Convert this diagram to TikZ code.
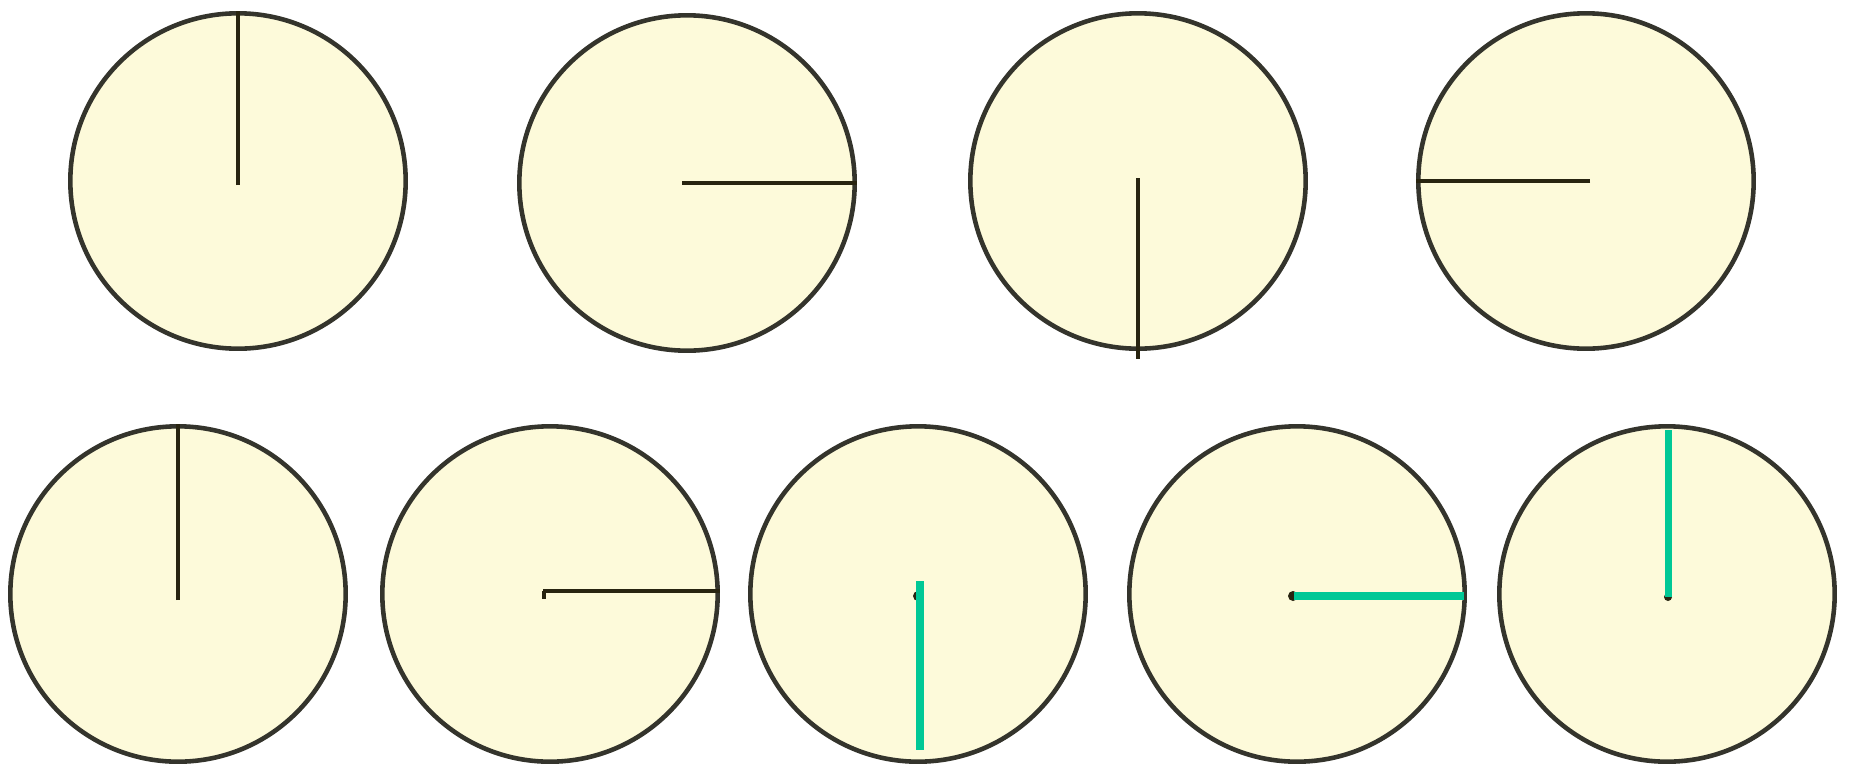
\documentclass[tikz,border=0pt]{standalone}
\usetikzlibrary{calc}
\begin{document}
\begin{tikzpicture}[x=0.02cm,y=-0.02cm,
  face/.style={draw=facegray,fill=facefill,line width=2.6pt,circle,minimum size=6.8cm-2.6pt,inner sep=0pt},
  hand/.style={draw=handdark,line width=2.7pt},
  ghand/.style={draw=handgreen,line width=4.5pt}]
\definecolor{facegray}{RGB}{52,52,44}
\definecolor{facefill}{RGB}{253,250,218}
\definecolor{handdark}{RGB}{40,36,16}
\definecolor{handgreen}{RGB}{0,200,150}
\useasboundingbox[fill=white] (0,0) rectangle (1853,768);
% top row
\node[face] (t1) at (238,181) {};
\node[face] (t2) at (687,183) {};
\node[face] (t3) at (1138,181) {};
\node[face] (t4) at (1586,181) {};
% bottom row
\node[face] (b1) at (178,594) {};
\node[face] (b2) at (550,594) {};
\node[face] (b3) at (918,594) {};
\node[face] (b4) at (1297,594) {};
\node[face] (b5) at (1667,594) {};
% hands
\draw[hand] ($(t1.center)+(0,4)$) -- (t1.north);
\draw[hand] ($(t2.center)+(-5,0)$) -- (t2.east);
\draw[hand] ($(t3.center)+(0,-3)$) -- ($(t3.south)+(0,8)$);
\draw[hand] ($(t4.center)+(4,0)$) -- (t4.west);
\draw[hand,line width=2.1pt] ($(b1.center)+(0,6)$) -- (b1.north);
\draw[hand] ($(b2.center)+(-7,-3)$) -- ($(b2.east)+(0,-3)$);
\draw[hand] ($(b2.center)+(-6,-3)$) -- ++(0,8);
\fill[handdark] ($(b3.center)+(0,2)$) circle (5);
\draw[ghand] ($(b3.center)+(2,-13)$) -- ($(b3.south)+(2,-14)$);
\fill[handdark] ($(b4.center)+(-4,2)$) circle (5);
\draw[ghand] ($(b4.center)+(-3,2)$) -- ($(b4.east)+(-3,2)$);
\fill[handdark] ($(b5.center)+(1,3)$) circle (4);
\draw[ghand,line width=4pt] ($(b5.center)+(1,3)$) -- ($(b5.north)+(1,6)$);
\end{tikzpicture}
\end{document}
